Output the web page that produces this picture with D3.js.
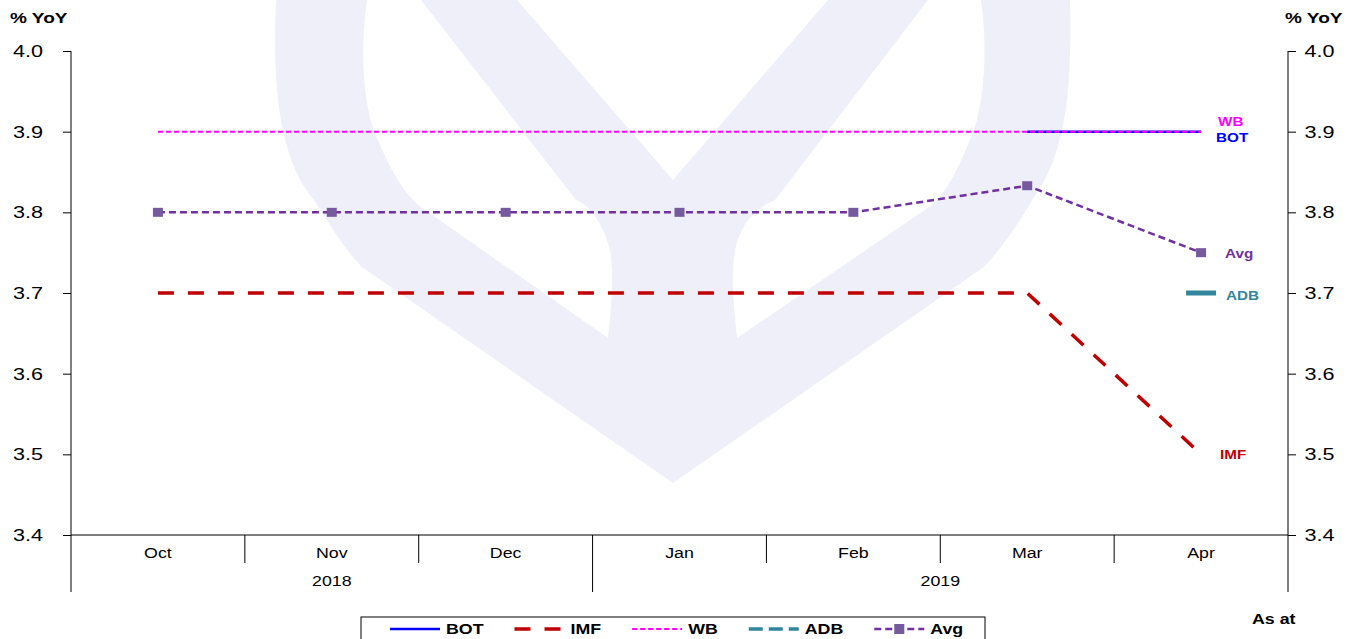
<!DOCTYPE html>
<html>
<head>
<meta charset="utf-8">
<script src="https://cdn.jsdelivr.net/npm/d3@7"></script>
<style>
  body { margin: 0; background: #fff; }
  svg text { font-family: "Liberation Sans", Arial, sans-serif; }
</style>
</head>
<body>
<script>
// data
var months = ["Oct", "Nov", "Dec", "Jan", "Feb", "Mar", "Apr"];
var years = [["2018", "Oct", "Dec"], ["2019", "Jan", "Apr"]];
var yTicks = [3.4, 3.5, 3.6, 3.7, 3.8, 3.9, 4.0];

var bot = [null, null, null, null, null, 3.9, 3.9];
var imf = [3.7, 3.7, 3.7, 3.7, 3.7, 3.7, 3.5];
var wb = [3.9, 3.9, 3.9, 3.9, 3.9, 3.9, 3.9];
var adb = [null, null, null, null, null, null, 3.7];
var avg = [3.8, 3.8, 3.8, 3.8, 3.8, 3.833, 3.75];

var width = 1358;
var height = 639;
var SX = 1.27; // text in the source is stretched wide

var svg = d3.select("body").append("svg")
    .attr("width", width)
    .attr("height", height);

var x = d3.scaleBand().domain(months).range([71, 1288]).padding(0);
var y = d3.scaleLinear().domain([3.4, 4.0]).range([535, 51]);
var cx = function (m) { return x(m) + x.bandwidth() / 2; };

function stretchText(sel, tx, ty) {
    sel.attr("transform", "translate(" + tx + "," + ty + ") scale(" + SX + ",1)");
}

/*****************  Watermark **********************/

var wm = svg.append("g");
wm.append("path")
    .attr("d", "M276,0 C272,90 280,160 314,200 C330,225 345,250 362,267 L673,483 L984,267 C1000,250 1018,225 1032,200 C1066,155 1072,90 1070,0 Z")
    .attr("fill", "#EEEFF8");
wm.append("path")
    .attr("d", "M367,0 C360,50 362,110 380,145 C392,172 402,190 418,205 L608,338 C612,300 614,275 610,250 C604,225 590,205 576,200 L421,0 Z")
    .attr("fill", "#fff");
wm.append("path")
    .attr("d", "M517,0 L673,180 L828,0 Z")
    .attr("fill", "#fff");
wm.append("path")
    .attr("d", "M981,0 C988,50 985,110 968,145 C956,172 948,190 932,205 L737,338 C733,300 731,275 735,250 C740,225 755,208 775,200 L928,0 Z")
    .attr("fill", "#fff");

/*****************  Axes **********************/

var leftAxis = svg.append("g")
    .attr("transform", "translate(71,0)")
    .call(d3.axisLeft(y).tickValues(yTicks).tickSize(8).tickPadding(14)
        .tickFormat(d3.format(".1f")));
var rightAxis = svg.append("g")
    .attr("transform", "translate(1288,0)")
    .call(d3.axisRight(y).tickValues(yTicks).tickSize(8).tickPadding(5)
        .tickFormat(d3.format(".1f")));

[leftAxis, rightAxis].forEach(function (a) {
    a.select(".domain").remove();
    a.selectAll("line").attr("stroke", "#000");
    a.selectAll("text")
        .attr("font-size", 17)
        .attr("font-family", "Liberation Sans, Arial, sans-serif")
        .attr("fill", "#000")
        .attr("transform", "scale(" + SX + ",1)");
});

// vertical axis lines run down through the category rows
svg.append("line").attr("x1", 71).attr("x2", 71).attr("y1", 51).attr("y2", 592).attr("stroke", "#000");
svg.append("line").attr("x1", 1288).attr("x2", 1288).attr("y1", 51).attr("y2", 592).attr("stroke", "#000");
svg.append("line").attr("x1", 71).attr("x2", 1288).attr("y1", y(3.4)).attr("y2", y(3.4)).attr("stroke", "#000");

// month separators
svg.selectAll(".msep")
    .data(months.slice(1))
    .enter()
    .append("line")
    .attr("class", "msep")
    .attr("x1", function (d) { return x(d); })
    .attr("x2", function (d) { return x(d); })
    .attr("y1", y(3.4))
    .attr("y2", function (d) {
        var isYear = years.some(function (yr) { return yr[1] == d; });
        return isYear ? 592 : 563;
    })
    .attr("stroke", "#000");

svg.selectAll(".mlab")
    .data(months)
    .enter()
    .append("text")
    .attr("class", "mlab")
    .attr("text-anchor", "middle")
    .attr("font-size", 14)
    .attr("fill", "#000")
    .text(function (d) { return d; })
    .each(function (d) { stretchText(d3.select(this), cx(d), 558); });

svg.selectAll(".ylab")
    .data(years)
    .enter()
    .append("text")
    .attr("class", "ylab")
    .attr("text-anchor", "middle")
    .attr("font-size", 14)
    .attr("fill", "#000")
    .text(function (d) { return d[0]; })
    .each(function (d) {
        var mid = (x(d[1]) + x(d[2]) + x.bandwidth()) / 2;
        stretchText(d3.select(this), mid, 586);
    });

// axis titles
svg.append("text").attr("font-size", 15).attr("font-weight", "bold").text("% YoY")
    .call(stretchText, 10, 23);
svg.append("text").attr("font-size", 15).attr("font-weight", "bold").text("% YoY")
    .call(stretchText, 1285, 23);
svg.append("text").attr("font-size", 14).attr("font-weight", "bold").text("As at")
    .call(stretchText, 1252, 624);

/*****************  Series **********************/

var series = [
    { name: "BOT", values: bot, color: "#0000FF", width: 2.5, dash: null },
    { name: "IMF", values: imf, color: "#C00000", width: 3.5, dash: "16,14" },
    { name: "WB", values: wb, color: "#FF00FF", width: 2, dash: "5,3" },
    { name: "ADB", values: adb, color: "#31859C", width: 4, dash: "14,6" },
    { name: "Avg", values: avg, color: "#7030A0", width: 2.5, dash: "7,4", marker: "#765A9E" }
];

var line = d3.line()
    .defined(function (d) { return d != null; })
    .x(function (d, i) { return cx(months[i]); })
    .y(function (d) { return y(d); });

series.forEach(function (s) {
    svg.append("path")
        .datum(s.values)
        .attr("fill", "none")
        .attr("stroke", s.color)
        .attr("stroke-width", s.width)
        .attr("stroke-dasharray", s.dash)
        .attr("d", line);
});

// ADB has a single point, drawn as a short bar
svg.selectAll(".adb")
    .data(adb.map(function (v, i) { return { v: v, m: months[i] }; }).filter(function (d) { return d.v != null; }))
    .enter()
    .append("line")
    .attr("x1", function (d) { return cx(d.m) - 15; })
    .attr("x2", function (d) { return cx(d.m) + 15; })
    .attr("y1", function (d) { return y(d.v); })
    .attr("y2", function (d) { return y(d.v); })
    .attr("stroke", "#31859C")
    .attr("stroke-width", 5);

svg.selectAll(".avgm")
    .data(avg)
    .enter()
    .append("rect")
    .attr("x", function (d, i) { return cx(months[i]) - 5; })
    .attr("y", function (d) { return y(d) - 4.5; })
    .attr("width", 10)
    .attr("height", 9)
    .attr("fill", "#765A9E");

/*****************  End labels **********************/

var endLabels = [
    { name: "WB", values: wb, color: "#FF00FF", dx: 17, dy: -6 },
    { name: "BOT", values: bot, color: "#0000FF", dx: 15, dy: 10 },
    { name: "Avg", values: avg, color: "#7030A0", dx: 24, dy: 5 },
    { name: "ADB", values: adb, color: "#31859C", dx: 25, dy: 7 },
    { name: "IMF", values: imf, color: "#C00000", dx: 19, dy: 5 }
];

endLabels.forEach(function (l) {
    var last = months.length - 1;
    svg.append("text")
        .attr("font-size", 12)
        .attr("font-weight", "bold")
        .attr("fill", l.color)
        .text(l.name)
        .call(stretchText, cx(months[last]) + l.dx, y(l.values[last]) + l.dy);
});

/*****************  Legend **********************/

var legend = svg.append("g");
legend.append("rect")
    .attr("x", 361).attr("y", 617)
    .attr("width", 624).attr("height", 40)
    .attr("fill", "#fff")
    .attr("stroke", "#000");

var lx = 390;
var ly = 629;
series.forEach(function (s) {
    legend.append("line")
        .attr("x1", lx).attr("x2", lx + 50)
        .attr("y1", ly).attr("y2", ly)
        .attr("stroke", s.color)
        .attr("stroke-width", s.name == "ADB" ? 3.5 : s.width)
        .attr("stroke-dasharray", s.dash);
    if (s.marker) {
        legend.append("rect")
            .attr("x", lx + 20).attr("y", ly - 5)
            .attr("width", 10).attr("height", 10)
            .attr("fill", s.marker);
    }
    var t = legend.append("text")
        .attr("font-size", 14)
        .attr("font-weight", "bold")
        .attr("fill", "#000")
        .text(s.name)
        .call(stretchText, lx + 56, ly + 5);
    lx += 56 + t.node().getComputedTextLength() * SX + 31;
});
</script>
</body>
</html>
